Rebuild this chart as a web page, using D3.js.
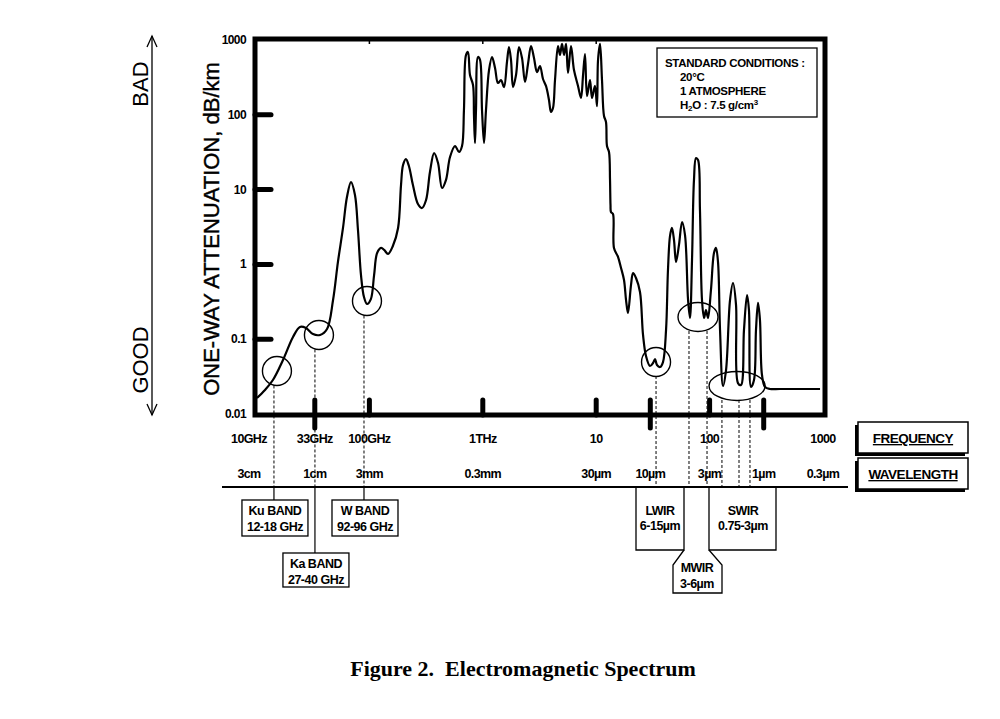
<!DOCTYPE html>
<html lang="en">
<head>
<meta charset="UTF-8">
<title>Electromagnetic Spectrum</title>
<script src="https://d3js.org/d3.v7.min.js"></script>
<style>
  body { margin: 0; background: #fff; }
  svg text { font-family: "Liberation Sans", Arial, sans-serif; fill: #000; }
</style>
</head>
<body>
<svg class="chart" width="1000" height="719"></svg>
<script>
// attenuation curve, frequency in GHz, attenuation in dB/km
const curveFreq = [10.2, 12.0, 14.1, 17.3, 21.2, 24.4, 27.6, 31.8, 36.7, 42.3, 47.8, 52.8, 58.5, 63.4, 68.8, 74.6, 79.3, 84.3, 89.6, 95.2,
  103, 110, 117, 127, 135, 146, 161, 179, 190, 198, 210, 223, 242, 268, 291, 316, 342, 372, 403, 437, 473, 514, 569, 617, 656, 682,
  711, 740, 771, 820, 836, 853, 871, 907, 945, 984, 1025, 1067, 1135, 1206, 1282, 1362, 1447, 1538, 1634, 1702, 1773, 1847, 1963,
  2085, 2217, 2356, 2504, 2661, 2828, 3006, 3194, 3395, 3607, 3834, 3992, 4159, 4333, 4603, 4795, 4995, 5203, 5420, 5641, 5997,
  6370, 6912, 7345, 7656, 7966, 8300, 8818, 9183, 9753, 10160, 10380, 10810, 11250, 11720, 12200, 12450, 12970, 13240, 13370,
  13500, 14060, 14350, 15570, 16560, 17590, 18330, 19060, 20280, 21130, 22440, 24330, 25880, 27490, 29790, 31700, 33030, 34360,
  36560, 38820, 41300, 42950, 44770, 46560, 48530, 50570, 53700, 57150, 60700, 64570, 67140, 69980, 72810, 75860, 79070, 82220,
  85700, 89330, 92900, 96830, 102800, 109300, 113800, 118600, 123600, 131300, 139600, 151400, 160800, 171000, 177900, 189200,
  201000, 213800, 222400, 231700, 246400, 256500, 267300, 278000, 289700, 308300, 341100, 417800, 941400]
const curveAtten = [0.0164, 0.021, 0.0285, 0.0527, 0.107, 0.146, 0.141, 0.117, 0.114, 0.137, 0.334, 1.08, 3.07, 7.96, 12.6, 8.47, 2.88, 0.72, 0.366, 0.296,
  0.344, 0.72, 1.42, 1.66, 1.56, 1.38, 1.76, 3.07, 11.5, 21.3, 25.6, 20.7, 11.5, 6.41, 5.67, 7.26, 17.2, 30.8, 22.7, 10.5, 13.4, 27.3, 38.3, 31.8, 38.3, 116,
  630, 692, 340, 250, 99, 42, 116, 593, 541, 116, 42, 116, 397, 593, 423, 266, 292, 235, 508, 806, 541, 235, 340,
  806, 574, 275, 477, 832, 574, 373, 449, 301, 243, 158, 109, 123, 292, 832, 630, 885, 630, 885, 362, 832,
  397, 243, 168, 340, 650, 178, 292, 168, 243, 131, 541, 885, 292, 96.4, 80.2, 38.3, 31.8, 13.4, 6.22,
  5.02, 4.72, 1.66, 1.26, 0.895, 0.618, 0.334, 0.224, 0.531, 0.767, 0.658, 0.428, 0.114, 0.0596, 0.0438, 0.0481, 0.0543, 0.0452,
  0.0425, 0.0495, 0.133, 0.841, 2.40, 3.07, 2.12, 1.08, 1.82, 3.69, 2.47, 0.334, 0.192, 1.15, 13.4, 26.4, 24.9, 5.33,
  0.334, 0.192, 0.245, 0.192, 0.455, 1.42, 1.66, 1.08, 0.133, 0.0237, 0.0387, 0.334, 0.564, 0.287, 0.0259, 0.0244,
  0.133, 0.390, 0.245, 0.0230, 0.0285, 0.133, 0.305, 0.181, 0.0332, 0.0230, 0.0216, 0.0216, 0.0216]

// axis ticks
const yTicks = [0.01, 0.1, 1, 10, 100, 1000]
const yTickLabels = ['0.01', '0.1', '1', '10', '100', '1000']
const freqTicks = [10, 33, 100, 1000, 1e4, 1e5, 1e6]
const freqLabels = ['10GHz', '33GHz', '100GHz', '1THz', '10', '100', '1000']
const waveTicks = [10, 33, 100, 1000, 1e4, 3e4, 1e5, 3e5, 1e6]
const waveLabels = ['3cm', '1cm', '3mm', '0.3mm', '30\u00b5m', '10\u00b5m', '3\u00b5m', '1\u00b5m', '0.3\u00b5m']
const shortTicks = [100, 1000, 1e4, 1e5]
const longTicks = [33, 3e4, 3e5]
const topTicks = [100, 1000, 1e4]

// radar bands (circle centre, leader frequency)
const radarBands = ['Ku BAND', 'Ka BAND', 'W BAND']
const radarRanges = ['12-18 GHz', '27-40 GHz', '92-96 GHz']
const radarFreq = [15.3, 35.9, 95.2]
const radarAtten = [0.0376, 0.114, 0.324]
const radarLeader = [14.4, 33.1, 89.6]

// infrared bands
const irBands = ['LWIR', 'MWIR', 'SWIR']
const irRanges = ['6-15\u00b5m', '3-6\u00b5m', '0.75-3\u00b5m']
const irFreq = [33700, 79000, 174600]
const irAtten = [0.0495, 0.198, 0.0237]
const irLeaders = [[33700], [65800, 94900], [128500, 181700, 227000]]

const conditions = ['STANDARD CONDITIONS :', '20\u00b0C', '1 ATMOSPHERE']

const svg = d3.select('.chart')
const frame = { left: 255, right: 825, top: 39, bottom: 415 }

const xScale = d3.scaleLog().domain([10, 1e6]).range([256, 823])
const yScale = d3.scaleLog().domain([0.01, 1000]).range([414, 40])

svg.append('rect').attr('width', 1000).attr('height', 719).attr('fill', '#fff')

// --- leaders (drawn first so the frame sits on top)
const leaderG = svg.append('g').attr('stroke', '#000').attr('fill', 'none')
radarLeader.forEach((f, i) => {
  const x = xScale(f)
  const y0 = yScale(radarAtten[i]) + 14.5
  leaderG.append('line').attr('x1', x).attr('x2', x).attr('y1', y0).attr('y2', 487)
    .attr('stroke-width', 1).attr('stroke-dasharray', '3,2')
  leaderG.append('line').attr('x1', x).attr('x2', x).attr('y1', 487).attr('y2', i === 1 ? 553 : 500)
    .attr('stroke-width', 1.2)
})
irLeaders.forEach((list, i) => {
  const y0 = yScale(irAtten[i]) + 14
  list.forEach(f => {
    const x = xScale(f)
    leaderG.append('line').attr('x1', x).attr('x2', x).attr('y1', y0).attr('y2', 487)
      .attr('stroke-width', 1).attr('stroke-dasharray', '3,2')
  })
})

// --- curve
const line = d3.line()
  .x((d, i) => xScale(curveFreq[i]))
  .y(d => yScale(d))
  .curve(d3.curveCatmullRom.alpha(0.5))
svg.append('path')
  .datum(curveAtten)
  .attr('d', line)
  .attr('fill', 'none')
  .attr('stroke', '#000')
  .attr('stroke-width', 2.2)
  .attr('stroke-linejoin', 'round')

// --- band circles / ellipses
const markG = svg.append('g').attr('fill', 'none').attr('stroke', '#000').attr('stroke-width', 1.4)
radarFreq.forEach((f, i) => {
  markG.append('ellipse').attr('cx', xScale(f)).attr('cy', yScale(radarAtten[i])).attr('rx', 14.5).attr('ry', 14.5)
})
const irRx = [14.5, 20, 28]
irFreq.forEach((f, i) => {
  markG.append('ellipse').attr('cx', xScale(f)).attr('cy', yScale(irAtten[i])).attr('rx', irRx[i]).attr('ry', 14.5)
})

// --- frame
svg.append('rect')
  .attr('x', frame.left).attr('y', frame.top)
  .attr('width', frame.right - frame.left).attr('height', frame.bottom - frame.top)
  .attr('fill', 'none').attr('stroke', '#000').attr('stroke-width', 5)

// y ticks and labels
yTicks.forEach((t, i) => {
  if (t > 0.01 && t < 1000) {
    svg.append('line').attr('x1', frame.left).attr('x2', frame.left + 16)
      .attr('y1', yScale(t)).attr('y2', yScale(t))
      .attr('stroke', '#000').attr('stroke-width', 5).attr('stroke-linecap', 'round')
  }
  svg.append('text').attr('x', 246).attr('y', yScale(t) + 4)
    .attr('text-anchor', 'end').attr('font-size', 12).attr('font-weight', 'bold')
    .attr('letter-spacing', -0.6)
    .text(yTickLabels[i])
})

// x ticks
shortTicks.forEach(t => {
  svg.append('line').attr('x1', xScale(t)).attr('x2', xScale(t)).attr('y1', 400).attr('y2', frame.bottom)
    .attr('stroke', '#000').attr('stroke-width', 5).attr('stroke-linecap', 'round')
})
longTicks.forEach(t => {
  svg.append('line').attr('x1', xScale(t)).attr('x2', xScale(t)).attr('y1', 400).attr('y2', 428)
    .attr('stroke', '#000').attr('stroke-width', 5).attr('stroke-linecap', 'round')
})
topTicks.forEach(t => {
  svg.append('line').attr('x1', xScale(t)).attr('x2', xScale(t)).attr('y1', frame.top).attr('y2', frame.top + 5)
    .attr('stroke', '#000').attr('stroke-width', 1.5)
})

// frequency / wavelength labels
freqTicks.forEach((t, i) => {
  svg.append('text').attr('x', xScale(t) + (i === 0 ? -7 : 0)).attr('y', 443)
    .attr('text-anchor', 'middle').attr('font-size', 12.5).attr('font-weight', 'bold')
    .attr('letter-spacing', -0.6).text(freqLabels[i])
})
waveTicks.forEach((t, i) => {
  svg.append('text').attr('x', xScale(t) + (i === 0 ? -7 : 0)).attr('y', 478)
    .attr('text-anchor', 'middle').attr('font-size', 12.5).attr('font-weight', 'bold')
    .attr('letter-spacing', -0.6).text(waveLabels[i])
})

// separator line
svg.append('line').attr('x1', 222).attr('x2', 848).attr('y1', 487).attr('y2', 487)
  .attr('stroke', '#000').attr('stroke-width', 2)

// FREQUENCY / WAVELENGTH keys
const keys = ['FREQUENCY', 'WAVELENGTH']
keys.forEach((k, i) => {
  const y = 422 + i * 36
  svg.append('rect').attr('x', 855).attr('y', y + 3).attr('width', 110).attr('height', 31).attr('fill', '#000')
  svg.append('rect').attr('x', 858).attr('y', y).attr('width', 110).attr('height', 31)
    .attr('fill', '#fff').attr('stroke', '#000').attr('stroke-width', 1.5)
  svg.append('text').attr('x', 913).attr('y', y + 21).attr('text-anchor', 'middle')
    .attr('font-size', 13.5).attr('font-weight', 'bold').attr('letter-spacing', -0.5)
    .attr('text-decoration', 'underline').text(k)
})

// radar band boxes
radarLeader.forEach((f, i) => {
  const cx = xScale(f) + 1
  const top = i === 1 ? 553 : 500
  const h = i === 1 ? 34 : 36
  svg.append('rect').attr('x', cx - 33).attr('y', top).attr('width', 66).attr('height', h)
    .attr('fill', '#fff').attr('stroke', '#000').attr('stroke-width', 1.3)
  svg.append('text').attr('x', cx).attr('y', top + 15).attr('text-anchor', 'middle')
    .attr('font-size', 12.5).attr('font-weight', 'bold').attr('letter-spacing', -0.5).text(radarBands[i])
  svg.append('text').attr('x', cx).attr('y', top + 31).attr('text-anchor', 'middle')
    .attr('font-size', 12.5).attr('font-weight', 'bold').attr('letter-spacing', -0.5).text(radarRanges[i])
})

// infrared band boxes
const irG = svg.append('g').attr('fill', 'none').attr('stroke', '#000').attr('stroke-width', 1.3)
irG.append('path').attr('d', 'M636,487 V550 H684 V487')
irG.append('path').attr('d', 'M709,487 V550 H776 V487')
irG.append('path').attr('d', 'M684,550 L673,565 V593 H722 V565 L709,550')
const irTextX = [660, 697, 743]
const irTextY = [515, 572, 515]
irBands.forEach((b, i) => {
  svg.append('text').attr('x', irTextX[i]).attr('y', irTextY[i]).attr('text-anchor', 'middle')
    .attr('font-size', 12.5).attr('font-weight', 'bold').attr('letter-spacing', -0.5).text(b)
  svg.append('text').attr('x', irTextX[i]).attr('y', irTextY[i] + (i === 1 ? 16 : 15)).attr('text-anchor', 'middle')
    .attr('font-size', 12.5).attr('font-weight', 'bold').attr('letter-spacing', -0.5).text(irRanges[i])
})

// standard conditions box
svg.append('rect').attr('x', 657).attr('y', 48).attr('width', 160).attr('height', 69)
  .attr('fill', '#fff').attr('stroke', '#000').attr('stroke-width', 1.3)
conditions.forEach((c, i) => {
  svg.append('text').attr('x', i === 0 ? 665 : 680).attr('y', 67 + i * 14)
    .attr('font-size', 11.5).attr('font-weight', 'bold').attr('letter-spacing', -0.3).text(c)
})
const h2o = svg.append('text').attr('x', 680).attr('y', 109)
  .attr('font-size', 11.5).attr('font-weight', 'bold').attr('letter-spacing', -0.3)
h2o.append('tspan').text('H')
h2o.append('tspan').attr('font-size', 8).attr('dy', 2).text('2')
h2o.append('tspan').attr('dy', -2).text('O : 7.5 g/cm')
h2o.append('tspan').attr('font-size', 8).attr('dy', -4).text('3')

// axis title
svg.append('text')
  .attr('transform', 'translate(219,229) rotate(-90)')
  .attr('text-anchor', 'middle').attr('font-size', 22)
  .attr('stroke', '#000').attr('stroke-width', 0.4)
  .text('ONE-WAY ATTENUATION, dB/km')

// GOOD / BAD arrow
svg.append('line').attr('x1', 152).attr('x2', 152).attr('y1', 36).attr('y2', 415)
  .attr('stroke', '#000').attr('stroke-width', 1.3)
svg.append('path').attr('d', 'M147,47 L152,36 L157,47').attr('fill', 'none').attr('stroke', '#000').attr('stroke-width', 1.3)
svg.append('path').attr('d', 'M147,404 L152,415 L157,404').attr('fill', 'none').attr('stroke', '#000').attr('stroke-width', 1.3)
svg.append('text').attr('transform', 'translate(148,84) rotate(-90)')
  .attr('text-anchor', 'middle').attr('font-size', 22).text('BAD')
svg.append('text').attr('transform', 'translate(148,360) rotate(-90)')
  .attr('text-anchor', 'middle').attr('font-size', 22).text('GOOD')

// caption
svg.append('text').attr('x', 523).attr('y', 676).attr('text-anchor', 'middle')
  .style('font-family', '"Liberation Serif", "Times New Roman", serif')
  .attr('font-size', 22).attr('font-weight', 'bold')
  .attr('xml:space', 'preserve')
  .text('Figure 2.  Electromagnetic Spectrum')
</script>
</body>
</html>
